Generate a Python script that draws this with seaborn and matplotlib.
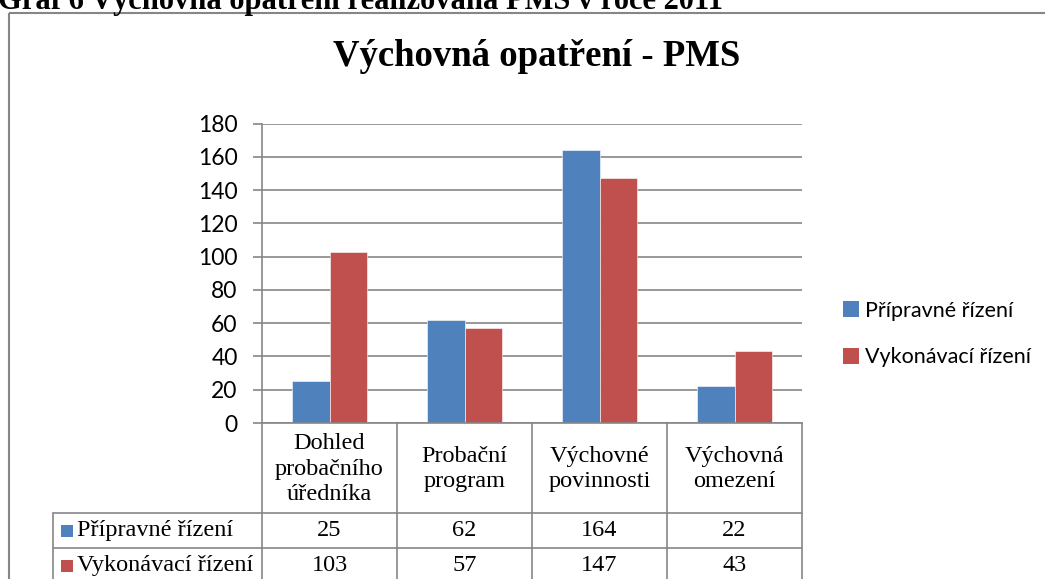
import seaborn as sns
import pandas as pd
import matplotlib.pyplot as plt
from matplotlib.patches import Rectangle, Patch

# data
kategorie = ["Dohled\nprobačního\núředníka", "Probační\nprogram",
             "Výchovné\npovinnosti", "Výchovná\nomezení"]
serie = ["Přípravné řízení", "Vykonávací řízení"]
pripravne = [25, 62, 164, 22]
vykonavaci = [103, 57, 147, 43]
barvy = ["#4F81BD", "#C0504D"]
y_ticks = [0, 20, 40, 60, 80, 100, 120, 140, 160, 180]

nadpis = "Výchovná opatření - PMS"
popis_grafu = "Graf 6 Výchovná opatření realizovaná PMS v roce 2011"

rows = []
for i, k in enumerate(kategorie):
    rows.append([k, serie[0], pripravne[i]])
    rows.append([k, serie[1], vykonavaci[i]])
df = pd.DataFrame(rows, columns=["kategorie", "serie", "hodnota"])

W, H = 1045, 579
sns.set_style("white")
plt.rcParams["text.color"] = "black"
plt.rcParams["ytick.labelcolor"] = "black"
fig = plt.figure(figsize=(W / 100, H / 100), dpi=100)

# overlay in pixel coordinates for frame, caption and data table
ov = fig.add_axes([0, 0, 1, 1])
ov.set_xlim(0, W)
ov.set_ylim(H, 0)
ov.axis("off")

grey = "#868686"
serif = "Liberation Serif"
sans = "Lato"

# plot area
ax_l, ax_r, ax_t, ax_b = 262, 802, 123.5, 423
ax = fig.add_axes([ax_l / W, 1 - ax_b / H, (ax_r - ax_l) / W, (ax_b - ax_t) / H])
ax.set_facecolor("none")
sns.barplot(data=df, x="kategorie", y="hodnota", hue="serie", palette=barvy,
            width=0.56, gap=0, ax=ax, legend=False, saturation=1,
            edgecolor="#ffffff", linewidth=0.4)
ax.set_ylim(0, 180)
ax.set_xlim(-0.5, len(kategorie) - 0.5)
ax.set_yticks(y_ticks)
ax.set_xticks([])
ax.set_xlabel("")
ax.set_ylabel("")
ax.yaxis.grid(True, color=grey, lw=1.2)
ax.set_axisbelow(True)
for s in ["top", "right"]:
    ax.spines[s].set_visible(False)
for s in ["left", "bottom"]:
    ax.spines[s].set_color(grey)
    ax.spines[s].set_linewidth(1.2)
ax.tick_params(axis="y", left=True, length=6.5, width=1.2, color=grey,
               pad=11, labelsize=16.5, labelcolor="black")
for lab in ax.get_yticklabels():
    lab.set_fontfamily(sans)

# legend
handles = [Patch(facecolor=c, edgecolor="none") for c in barvy]
ax.legend(handles, serie, loc="center left",
          bbox_to_anchor=(824 / W, 1 - 334 / H), bbox_transform=fig.transFigure,
          frameon=False, handlelength=0.72, handleheight=0.72,
          handletextpad=0.3, labelspacing=1.25,
          prop={"family": sans, "size": 15.5})

# title and caption
ov.text(537, 57, nadpis, ha="center", va="center", fontsize=26.5,
        fontweight="bold", family=serif, color="black")
ov.text(-2, 9, popis_grafu, ha="left", va="baseline", fontsize=22,
        fontweight="bold", family=serif, color="black")

# outer frame
ov.add_patch(Rectangle((8.5, 12.5), 1100, 700, fill=False, ec=grey, lw=1.5,
                       clip_on=False))

# data table
tab_l = 53
row_y = [ax_b, 513, 548, 583]
col_w = (ax_r - ax_l) / len(kategorie)
col_x = [ax_l + col_w * i for i in range(len(kategorie) + 1)]
for x in col_x:
    ov.plot([x, x], [ax_b, row_y[-1]], color=grey, lw=1.2, clip_on=False)
ov.plot([tab_l, tab_l], [row_y[1], row_y[-1]], color=grey, lw=1.2, clip_on=False)
for y in row_y[1:]:
    ov.plot([tab_l, ax_r], [y, y], color=grey, lw=1.2, clip_on=False)

fs_tab = 17.5
for i, k in enumerate(kategorie):
    xc = (col_x[i] + col_x[i + 1]) / 2
    ov.text(xc, (row_y[0] + row_y[1]) / 2 + 1, k, ha="center", va="center",
            fontsize=fs_tab, family=serif, linespacing=1.3)
    for j, vals in enumerate([pripravne, vykonavaci]):
        ov.text(xc, (row_y[j + 1] + row_y[j + 2]) / 2, str(vals[i]),
                ha="center", va="center", fontsize=fs_tab, family=serif)

for j, s in enumerate(serie):
    yc = (row_y[j + 1] + row_y[j + 2]) / 2
    ov.add_patch(Rectangle((61, yc - 6), 12, 12, color=barvy[j], lw=0))
    ov.text(77, yc, s, ha="left", va="center", fontsize=fs_tab, family=serif)

fig.savefig("out.png", dpi=100)
